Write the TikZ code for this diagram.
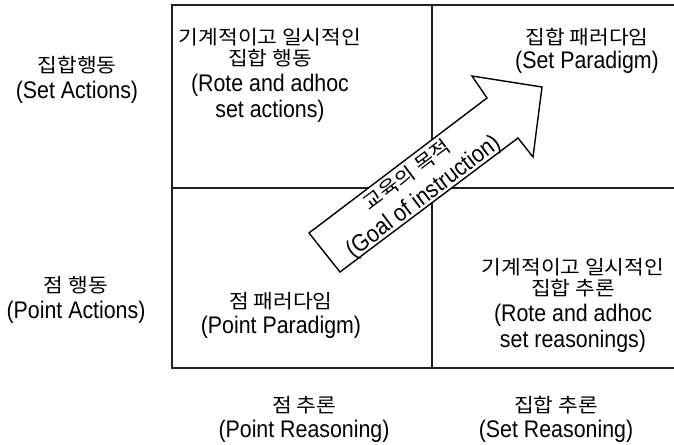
\documentclass[tikz,border=0pt]{standalone}
\usepackage{fontspec}
\setmainfont[FakeStretch=0.89]{Liberation Sans}
\newfontfamily\kr[FakeStretch=1.1]{Noto Sans CJK KR}
\tikzset{
  grid/.style={draw=black!88, line width=1.7pt},
  lbl/.style={inner sep=0pt, align=center, font=\fontsize{24}{26}\selectfont},
  goal/.style={draw=black, line width=1.4pt, fill=white, line join=miter},
}
\newcommand{\ko}[1]{{\kr\fontsize{19.5}{26}\selectfont #1}}
\begin{document}
\begin{tikzpicture}[x=1pt,y=-1pt]
\useasboundingbox (0,0) rectangle (674,444);
% grid
\coordinate (tl) at (172,5);
\coordinate (tr) at (674,5);
\coordinate (bl) at (172,368);
\coordinate (br) at (674,368);
\coordinate (mt) at (432,5);
\coordinate (mb) at (432,368);
\coordinate (ml) at (172,188);
\coordinate (mr) at (674,188);
\draw[grid] (tr) -- (tl) -- (bl) -- (br);
\draw[grid] (mt) -- (mb);
\draw[grid] (ml) -- (mr);
% arrow
\coordinate (a1) at (309,233);
\coordinate (a2) at (487,98);
\coordinate (a3) at (472,76);
\coordinate (a4) at (542,87);
\coordinate (a5) at (533,157);
\coordinate (a6) at (518,138);
\coordinate (a7) at (340,272);
\draw[goal] (a1) -- (a2) -- (a3) -- (a4) -- (a5) -- (a6) -- (a7) -- cycle;
\node[lbl, rotate=37] (goaltxt) at (416,187) {\ko{교육의 목적}\\[1pt](Goal of instruction)};
% row labels
\node[lbl] (setact) at (77,80) {\ko{집합행동}\\(Set Actions)};
\node[lbl] (ptact) at (76,300) {\ko{점 행동}\\(Point Actions)};
% cells
\node[lbl] (rotesetact) at (270,75) {\ko{기계적이고 일시적인}\\[-5pt]\ko{집합 행동}\\(Rote and adhoc\\set actions)};
\node[lbl] (setpar) at (587,51) {\ko{집합 패러다임}\\[-2pt](Set Paradigm)};
\node[lbl] (ptpar) at (281,315) {\ko{점 패러다임}\\[-1pt](Point Paradigm)};
\node[lbl] (rotesetreas) at (573,305) {\ko{기계적이고 일시적인}\\[-5pt]\ko{집합 추론}\\(Rote and adhoc\\set reasonings)};
% column labels
\node[lbl] (ptreas) at (304,419) {\ko{점 추론}\\[-1pt](Point Reasoning)};
\node[lbl] (setreas) at (556,419) {\ko{집합 추론}\\[-1pt](Set Reasoning)};
\end{tikzpicture}
\end{document}
